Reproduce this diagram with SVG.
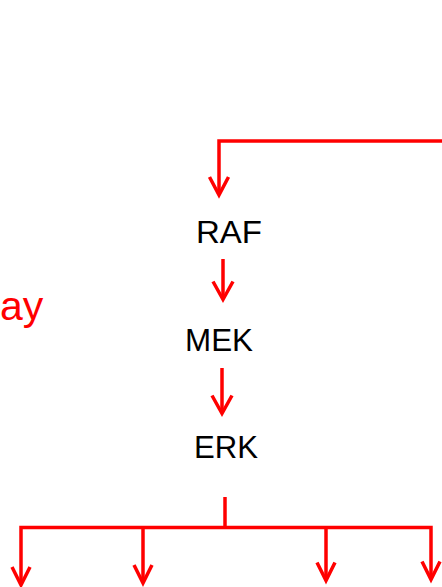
<svg xmlns="http://www.w3.org/2000/svg" width="442" height="587" viewBox="0 0 442 587">
<style>
.ln{fill:none;stroke:#ff0000;stroke-width:3.5;stroke-linecap:butt;stroke-linejoin:miter}
.hd{fill:none;stroke:#ff0000;stroke-width:3.5;stroke-linecap:butt;stroke-linejoin:miter}
.lbl{font-family:"Liberation Sans",Arial,sans-serif;font-size:31px;fill:#000}
.red{font-family:"Liberation Sans",Arial,sans-serif;font-size:41px;fill:#ff0000}
</style>
<rect width="442" height="587" fill="#fff"/>
<g id="title">
<text class="red" x="0" y="320">ay</text>
</g>
<g id="connectors">
<path class="ln" d="M442,141 H219 V195"/>
<path class="hd" d="M209.5,177 L219,195 L228.5,177"/>
<path class="ln" d="M223,259 V299"/>
<path class="hd" d="M213,281.5 L223,299.5 L233,281.5"/>
<path class="ln" d="M222,368 V413"/>
<path class="hd" d="M212,395.5 L222,413.5 L232,395.5"/>
<path class="ln" d="M225,497 V529"/>
<path class="ln" d="M21,585 V527.5 H431 V579"/>
<path class="ln" d="M143,527.5 V583"/>
<path class="ln" d="M326,527.5 V580"/>
<path class="hd" d="M12,567 L21,585 L30,567"/>
<path class="hd" d="M134,565 L143,583 L152,565"/>
<path class="hd" d="M317,562.5 L326,580.5 L335,562.5"/>
<path class="hd" d="M422,561.5 L431,579.5 L440,561.5"/>
</g>
<g id="RAF"><text class="lbl" x="196" y="243" textLength="66" lengthAdjust="spacingAndGlyphs">RAF</text></g>
<g id="MEK"><text class="lbl" x="185" y="351" textLength="68" lengthAdjust="spacingAndGlyphs">MEK</text></g>
<g id="ERK"><text class="lbl" x="194" y="458" textLength="64" lengthAdjust="spacingAndGlyphs">ERK</text></g>
</svg>
